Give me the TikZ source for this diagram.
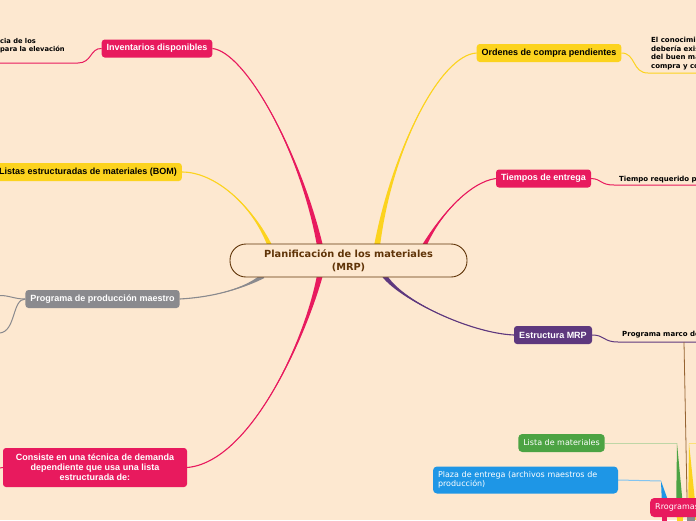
\documentclass[tikz,border=0pt]{standalone}
\usepackage{fontspec}
\usetikzlibrary{calc,backgrounds}
\newfontfamily\topicfont{Liberation Sans}
\newfontfamily\notefont{DejaVu Sans}
\definecolor{bgpeach}{RGB}{253,232,208}
\definecolor{mmpink}{RGB}{232,26,94}
\definecolor{mmyellow}{RGB}{252,211,30}
\definecolor{mmgray}{RGB}{138,138,142}
\definecolor{mmpurple}{RGB}{94,56,126}
\definecolor{mmgreen}{RGB}{76,163,67}
\definecolor{mmblue}{RGB}{30,150,230}
\definecolor{lightgreen}{RGB}{190,214,166}
\definecolor{lightblue}{RGB}{130,196,240}
\definecolor{lightyellow}{RGB}{252,224,120}
\definecolor{rootbrown}{RGB}{96,52,8}
\definecolor{linkbrown}{RGB}{150,100,50}
% tapered branch: colour, thin end, control 1, control 2, thick end, half width
\newcommand{\branch}[6]{%
  \fill[#1] (#2) .. controls (#3) and (#4) .. ($(#5)+(#6)$) -- ($(#5)-(#6)$) .. controls (#4) and (#3) .. (#2);
  \draw[#1,line width=1.1pt] (#2) .. controls (#3) and (#4) .. (#5);}

\begin{document}
\begin{tikzpicture}[x=1pt, y=-1pt,
    root/.style={draw=rootbrown, line width=0.9pt, fill=bgpeach, rounded corners=16pt,
      minimum width=237pt, minimum height=33pt, align=center, text=rootbrown,
      font=\notefont\bfseries\fontsize{9.8}{13}\selectfont},
    topic/.style={rounded corners=3pt, minimum height=18pt, inner xsep=5pt, inner ysep=2pt,
      text=white, font=\topicfont\bfseries\fontsize{9}{10}\selectfont},
    subtopic/.style={rounded corners=4pt, minimum height=18pt, inner xsep=5pt, inner ysep=2pt,
      text=white, font=\notefont\fontsize{8}{9.5}\selectfont},
    note/.style={inner sep=0pt, anchor=base west, align=left,
      font=\notefont\bfseries\fontsize{7}{8.5}\selectfont},
    child/.style={line width=1pt}]
  \useasboundingbox (0,0) rectangle (696,520);

  % central topic
  \node[root] (root) at (348.5,260.5) {Planificación de los materiales\\(MRP)};

  % left topics
  \node[topic,fill=mmpink,minimum width=110pt] (inv) at (157,48.5) {Inventarios disponibles};
  \node[topic,fill=mmyellow,text=black,anchor=east] (bom) at (182,172) {Listas estructuradas de materiales (BOM)};
  \node[topic,fill=mmgray,minimum width=153pt] (maestro) at (102.5,299) {Programa de producción maestro};
  \node[topic,fill=mmpink,minimum width=184pt,minimum height=39pt,align=center] (cons) at (95,467.5)
    {Consiste en una técnica de demanda\\dependiente que usa una lista\\estructurada de:};

  % right topics
  \node[topic,fill=mmyellow,text=black,minimum width=144pt] (ord) at (549,53) {Ordenes de compra pendientes};
  \node[topic,fill=mmpink,minimum width=95pt] (tie) at (543.5,178.5) {Tiempos de entrega};
  \node[topic,fill=mmpurple,minimum width=78pt] (est) at (553,335) {Estructura MRP};

  % notes (base = last line)
  \node[note,font=\notefont\bfseries\fontsize{6.7}{8.3}\selectfont] (invnote) at (0,51.3) {cia de los\\para la elevación};
  \node[note] (ordnote) at (651,68) {El conocimi\\debería exis\\del buen ma\\compra y co};
  \node[note] (tienote) at (619,181.5) {Tiempo requerido p};
  \node[note] (estnote) at (622,336.5) {Programa marco de};

  % bottom right subtopics
  \node[subtopic,fill=mmgreen,minimum width=85pt] (lis) at (561.5,443) {Lista de materiales};
  \node[subtopic,fill=mmblue,text width=175pt,align=left,minimum height=27pt] (plaza) at (525.5,480)
    {Plaza de entrega (archivos maestros de\\producción)};
  \node[subtopic,fill=mmpink,anchor=west,text width=60pt,align=left,minimum height=19pt] (prog) at (650,507.5) {Rrogramas};

  \coordinate (rInv) at (320,246);
  \coordinate (rBom) at (270,246);
  \coordinate (rMae) at (263,276);
  \coordinate (rCons) at (320,275);
  \coordinate (rOrd) at (377,246);
  \coordinate (rTie) at (424,246);
  \coordinate (rEst) at (384,275);
  \coordinate (invOut) at (0,63);
  \coordinate (ordOut) at (696,73);
  \coordinate (tieOut) at (696,185);
  \coordinate (estOut) at (696,342);
  \coordinate (estK) at (684,342);
  \coordinate (maeOutA) at (0,295.5);
  \coordinate (maeOutB) at (0,333);
  \coordinate (consOut) at (0,468);
  \coordinate (lisK) at (677,443);
  \coordinate (plaK) at (661,481);
  \coordinate (yelK) at (689,443);
  \coordinate (yelOut) at (696,443);

  \begin{scope}[on background layer]
    \fill[bgpeach] (0,0) rectangle (696,520);

    \branch{mmpink}{inv.east}{245,52}{300,150}{rInv}{3,0}
    \branch{mmyellow}{bom.east}{215,172}{252,205}{rBom}{2.5,0}
    \branch{mmgray}{maestro.east}{215,297}{245,288}{rMae}{1.3,2}
    \branch{mmpink}{cons.east}{250,462}{305,340}{rCons}{3,0}
    \branch{mmyellow}{ord.west}{440,55}{392,150}{rOrd}{3,0}
    \branch{mmpink}{tie.west}{470,182}{440,215}{rTie}{2.5,0}
    \branch{mmpurple}{est.west}{470,333}{400,300}{rEst}{2,-1.5}

    \draw[mmpink,child] (inv.west) .. controls (90,48) and (92,63) .. (78,63) -- (invOut);
    \draw[mmyellow,child] (ord.east) .. controls (636,53) and (632,73) .. (648,73) -- (ordOut);
    \draw[mmpink,child] (tie.east) .. controls (602,179) and (600,185) .. (614,185) -- (tieOut);
    \draw[mmpurple,child] (est.east) .. controls (605,335) and (603,342) .. (618,342) -- (estOut);
    \draw[mmgray,child] (maestro.west) .. controls (14,299) and (10,295.5) .. (maeOutA);
    \draw[mmgray,child] (maestro.west) .. controls (12,299) and (16,331) .. (maeOutB);
    \draw[mmpink,child] (cons.west) -- (consOut);
    \draw[linkbrown,line width=0.8pt] (estK) -- ($(prog.north west)+(37,0)$);

    \draw[lightgreen,child] (lis.east) -- (lisK);
    \fill[mmgreen] (lisK) -- ($(prog.south west)+(34,0)$) -- ($(prog.south west)+(26,0)$) -- cycle;
    \draw[lightblue,child] (plaza.east) -- (plaK);
    \fill[mmblue] (plaK) -- ($(prog.north west)+(20,8)$) -- ($(prog.north west)+(12,8)$) -- cycle;
    \draw[lightyellow,child] (yelK) -- (yelOut);
    \fill[mmyellow] (yelK) -- ($(prog.south west)+(47,3)$) -- ($(prog.south west)+(38,3)$) -- cycle;

    \fill[mmpink] ($(prog.south west)+(12,0)$) rectangle ++(5,4);
    \fill[mmyellow] ($(prog.south west)+(27,0)$) rectangle ++(6,4);
    \fill[mmgray] ($(prog.south west)+(37,0)$) rectangle ++(8,4);
  \end{scope}
\end{tikzpicture}
\end{document}
